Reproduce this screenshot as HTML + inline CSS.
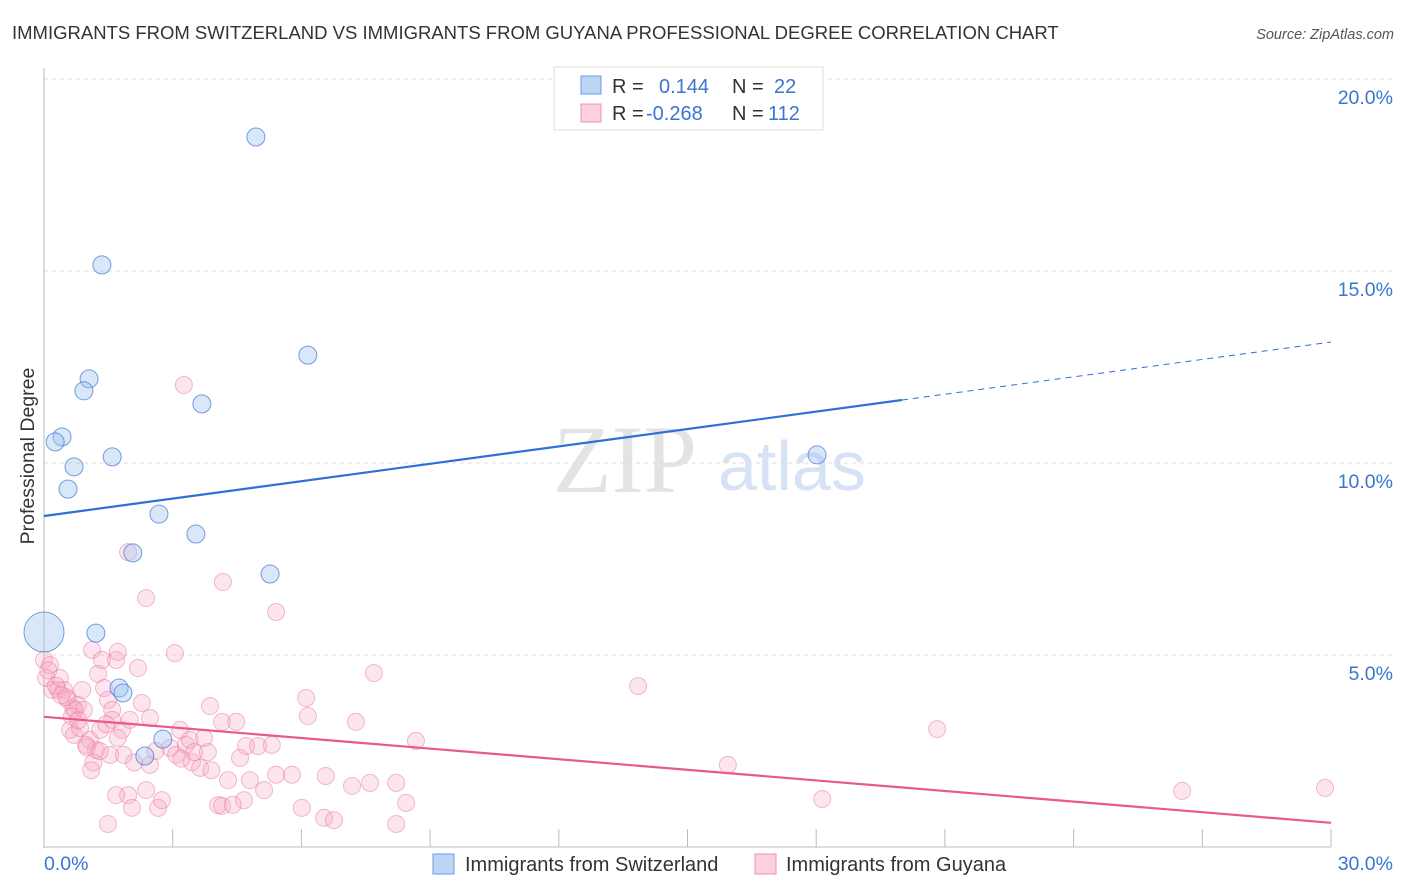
<!DOCTYPE html>
<html><head><meta charset="utf-8"><style>
body{margin:0;background:#fff;font-family:"Liberation Sans",sans-serif}
svg{display:block}
</style></head><body>
<svg id="chart" width="1406" height="892">
<text x="12" y="39" font-size="18.5" fill="#333">IMMIGRANTS FROM SWITZERLAND VS IMMIGRANTS FROM GUYANA PROFESSIONAL DEGREE CORRELATION CHART</text>
<text x="1394" y="39" font-size="14.5" fill="#555" font-style="italic" text-anchor="end">Source: ZipAtlas.com</text>
<g>
<text x="553" y="492" font-size="96" font-family="Liberation Serif,serif" fill="#e3e3e3">ZIP</text>
<text x="718" y="490" font-size="70" fill="#d5e3f5">atlas</text>
</g>
<g id="grid"></g>
<g id="axes"></g>
<g id="marks"></g>
<text x="34" y="456" font-size="19.5" fill="#333" text-anchor="middle" transform="rotate(-90 34 456)">Professional Degree</text>
<g>
<rect x="554" y="67" width="269" height="63" fill="#fff" stroke="#ddd"/>
<rect x="581" y="76" width="20" height="18" fill="#bcd5f5" stroke="#6a9be0"/>
<rect x="581" y="104" width="20" height="18" fill="#fcd0dc" stroke="#ee94b0"/>
<text x="612" y="93" font-size="20" fill="#333">R =</text><text x="659" y="93" font-size="20" fill="#3a75d0">0.144</text>
<text x="732" y="93" font-size="20" fill="#333">N =</text><text x="774" y="93" font-size="20" fill="#3a75d0">22</text>
<text x="612" y="120" font-size="20" fill="#333">R =</text><text x="646" y="120" font-size="20" fill="#3a75d0">-0.268</text>
<text x="732" y="120" font-size="20" fill="#333">N =</text><text x="768" y="120" font-size="20" fill="#3a75d0">112</text>
</g>
<g>
<rect x="433" y="854" width="21" height="20" fill="#bcd5f5" stroke="#6a9be0"/>
<text x="465" y="871" font-size="20" fill="#333">Immigrants from Switzerland</text>
<rect x="755" y="854" width="21" height="20" fill="#fcd0dc" stroke="#ee94b0"/>
<text x="786" y="871" font-size="20" fill="#333">Immigrants from Guyana</text>
</g>
</svg>
<script>
const yTicks=[5,10,15,20];
const yTickLabels=["5.0%","10.0%","15.0%","20.0%"];
const xTickLabels=["0.0%","30.0%"];
const swissX=[0,4.94,1.35,6.15,1.05,0.93,3.68,0.42,0.26,0.70,1.59,0.56,2.68,3.54,2.07,5.27,1.21,1.75,1.84,18.02,2.77,2.35];
const swissY=[5.6,18.49,15.16,12.81,12.19,11.88,11.54,10.68,10.55,9.90,10.16,9.32,8.67,8.15,7.66,7.11,5.57,4.14,4.01,10.21,2.81,2.37];
const swissR=[20,9,9,9,9,9,9,9,9,9,9,9,9,9,9,9,9,9,9,9,9,9];
const guyX=[0,0.14,0.19,0.33,0.37,0.47,0.56,0.68,0.79,0.72,0.89,0.93,1.07,0.61,0.70,0.84,0.98,1.21,1.31,1.12,1.26,1.35,1.40,1.49,1.59,1.68,1.72,1.59,1.82,1.72,1.86,1.54,1.96,2.19,2.38,2.28,2.00,2.47,2.47,2.38,1.96,1.68,2.05,1.49,2.66,2.75,2.94,3.05,3.26,3.17,3.08,3.31,3.40,3.45,3.64,3.73,3.50,3.82,3.87,4.15,4.48,4.17,4.29,4.06,4.15,4.66,4.57,4.71,4.80,4.99,5.13,5.31,5.41,5.41,5.78,6.11,6.15,6.01,6.53,6.76,6.57,7.18,7.27,7.60,7.69,8.21,8.21,8.44,8.67,13.85,15.94,18.14,20.82,26.53,29.86,0.05,0.10,0.28,0.52,0.65,0.80,1.00,1.15,1.30,1.45,1.10,2.10,2.60,3.20,3.90,4.40,0.40];
const guyY=[4.87,4.74,4.09,4.09,4.40,4.09,3.83,3.62,3.70,3.57,4.09,3.57,2.79,3.05,2.92,3.10,2.66,2.53,3.05,5.13,4.51,4.87,4.14,3.83,3.57,4.87,5.08,3.31,3.05,2.84,2.40,2.40,7.68,4.66,6.48,3.75,3.31,3.36,2.14,1.48,1.35,1.35,1.02,0.60,1.02,1.22,2.58,5.05,12.03,3.05,2.40,2.66,2.79,2.21,2.06,2.84,2.47,2.47,3.67,3.26,3.26,6.90,1.74,1.09,1.07,1.22,2.32,2.63,1.74,2.63,1.48,2.66,6.12,1.88,1.88,3.88,3.41,1.02,0.76,0.70,1.85,1.59,3.26,1.67,4.53,1.67,0.60,1.15,2.76,4.19,2.14,1.25,3.07,1.46,1.54,4.40,4.60,4.20,3.90,3.40,3.30,2.60,2.20,2.50,3.20,2.00,2.20,2.50,2.30,2.00,1.10,3.95];
const swissTrend=[8.62,11.64,13.15]; // values at x=0, x=20, x=30
const guyTrend=[3.39,0.63]; // values at x=0, x=30
const NS="http://www.w3.org/2000/svg";
const sx=v=>44+v*42.9, sy=v=>847-v*38.4;
function mk(t,a,p){const e=document.createElementNS(NS,t);for(const k in a)e.setAttribute(k,a[k]);p.appendChild(e);return e;}
const grid=document.getElementById('grid'),axes=document.getElementById('axes'),marks=document.getElementById('marks');
yTicks.forEach((t,i)=>{
 const l=mk('line',{x1:44,x2:1394,y1:sy(t),y2:sy(t),stroke:'#ddd','stroke-dasharray':'4,4'},grid);
 
 
 const tx=mk('text',{x:1393,y:sy(t)+25,'font-size':19.5,fill:'#3a75d0','text-anchor':'end'},axes);
 tx.textContent=yTickLabels[i];
 
 
});
const ax=mk('line',{x1:44,x2:44,y1:68,y2:848,stroke:'#bbb'},axes);


const bx=mk('line',{x1:44,x2:1331,y1:847,y2:847,stroke:'#bbb'},axes);


for(let i=0;i<=10;i++){const t=mk('line',{x1:sx(i*3),x2:sx(i*3),y1:829,y2:847,stroke:'#bbb'},axes);
 
 }
const xl0=mk('text',{x:44,y:870,'font-size':19.5,fill:'#3a75d0'},axes);xl0.textContent=xTickLabels[0];


const xl1=mk('text',{x:1393,y:870,'font-size':19.5,fill:'#3a75d0','text-anchor':'end'},axes);xl1.textContent=xTickLabels[1];


guyX.forEach((x,i)=>{const c=mk('circle',{cx:sx(x),cy:sy(guyY[i]),r:8.5,fill:'rgba(248,170,195,0.3)',stroke:'rgba(232,120,160,0.5)','stroke-width':1},marks);
 
 });
swissX.forEach((x,i)=>{const c=mk('circle',{cx:sx(x),cy:sy(swissY[i]),r:swissR[i],fill:'rgba(160,195,240,0.4)',stroke:'rgba(60,120,210,0.7)','stroke-width':1},marks);
 
 });
const t1=mk('line',{x1:sx(0),y1:sy(swissTrend[0]),x2:sx(20),y2:sy(swissTrend[1]),stroke:'#2f6fd6','stroke-width':2.2},marks);


const t2=mk('line',{x1:sx(20),y1:sy(swissTrend[1]),x2:sx(30),y2:sy(swissTrend[2]),stroke:'#2f6fd6','stroke-width':1,'stroke-dasharray':'6,5'},marks);


const t3=mk('line',{x1:sx(0),y1:sy(guyTrend[0]),x2:sx(30),y2:sy(guyTrend[1]),stroke:'#e85a8c','stroke-width':2.2},marks);


</script>
</body></html>
